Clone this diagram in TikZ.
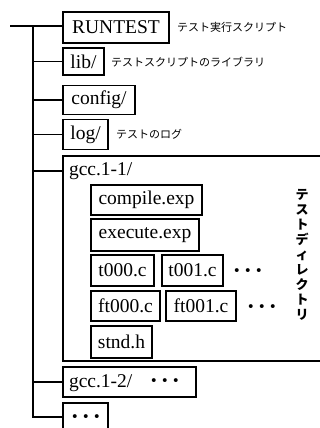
\documentclass[tikz,border=0pt]{standalone}
\usepackage{fontspec}
\setmainfont{Liberation Serif}
\newfontfamily\jpfont{Noto Sans CJK JP}
\begin{document}
\begin{tikzpicture}[x=1pt,y=-1pt,
  every node/.style={inner sep=0pt, outer sep=0pt},
  ftext/.style={font=\fontsize{19.5}{19.5}\selectfont},
  fbox/.style={ftext, draw, line width=1.2pt},
  dotsl/.style={font=\bfseries\fontsize{24}{24}\selectfont, text height=8pt, text depth=0pt},
  jlabel/.style={anchor=west, font=\jpfont\fontsize{11}{11}\selectfont},
  conn/.style={line width=1.2pt}]
\useasboundingbox (0,0) rectangle (320,428);
% boxes
\node[fbox, minimum width=106, minimum height=31] (runtest) at (116,27.5) {RUNTEST};
\node[fbox, minimum width=41, minimum height=27] (lib) at (83.5,61.5) {lib/};
\node[fbox, minimum width=72, minimum height=29] (config) at (99,100) {config/};
\node[fbox, minimum width=45, minimum height=30] (log) at (85.5,134.5) {log/};
\node[draw, line width=1.2pt, minimum width=262, minimum height=205] (gcc11) at (194,258.5) {};
\node[ftext, anchor=west] (gcclabel) at (69,171) {gcc.1-1/};
\node[fbox, minimum width=111, minimum height=30] (compile) at (146.5,200) {compile.exp};
\node[fbox, minimum width=108, minimum height=32] (execute) at (145,235) {execute.exp};
\node[fbox, minimum width=63, minimum height=31] (t000) at (122.5,270.5) {t000.c};
\node[fbox, minimum width=61, minimum height=31] (t001) at (192.5,270.5) {t001.c};
\node[dotsl] (dots1) at (248,274) {·\hspace{3pt}·\hspace{3pt}·};
\node[fbox, minimum width=69, minimum height=30] (ft000) at (125.5,306) {ft000.c};
\node[fbox, minimum width=70, minimum height=30] (ft001) at (201,306) {ft001.c};
\node[dotsl] (dots2) at (262,310) {·\hspace{3pt}·\hspace{3pt}·};
\node[fbox, minimum width=61, minimum height=32] (stnd) at (121.5,342) {stnd.h};
\node[draw, line width=1.2pt, minimum width=133, minimum height=30] (gcc12) at (129.5,382) {};
\node[ftext, anchor=west] (gcc12label) at (69,383) {gcc.1-2/};
\node[dotsl] (dots3) at (165,384) {·\hspace{3pt}·\hspace{3pt}·};
\node[draw, line width=1.2pt, minimum width=45, minimum height=28] (more) at (85.5,417) {};
\node[dotsl] (dots4) at (86,420) {·\hspace{3pt}·\hspace{3pt}·};
% labels
\node[jlabel] (l1) at (177,27) {テスト実行スクリプト};
\node[jlabel] (l2) at (111,62) {テストスクリプトのライブラリ};
\node[jlabel] (l3) at (116,134) {テストのログ};
\node[align=center, font=\jpfont\bfseries\fontsize{13}{15}\selectfont] (vl) at (302,255)
  {テ\\ス\\ト\\デ\\ィ\\レ\\ク\\ト\\リ};
% connectors
\coordinate (root) at (10,26);
\coordinate (ttop) at (33,26);
\draw[conn] (root) -- (runtest.west |- root);
\draw[conn] (ttop) |- (more.west);
\draw[conn] (ttop |- lib.west) -- (lib.west);
\draw[conn] (ttop |- config.west) -- (config.west);
\draw[conn] (ttop |- log.west) -- (log.west);
\draw[conn] (ttop |- gcclabel.west) -- (gcc11.west |- gcclabel.west);
\draw[conn] (ttop |- gcc12.west) -- (gcc12.west);
\end{tikzpicture}
\end{document}
